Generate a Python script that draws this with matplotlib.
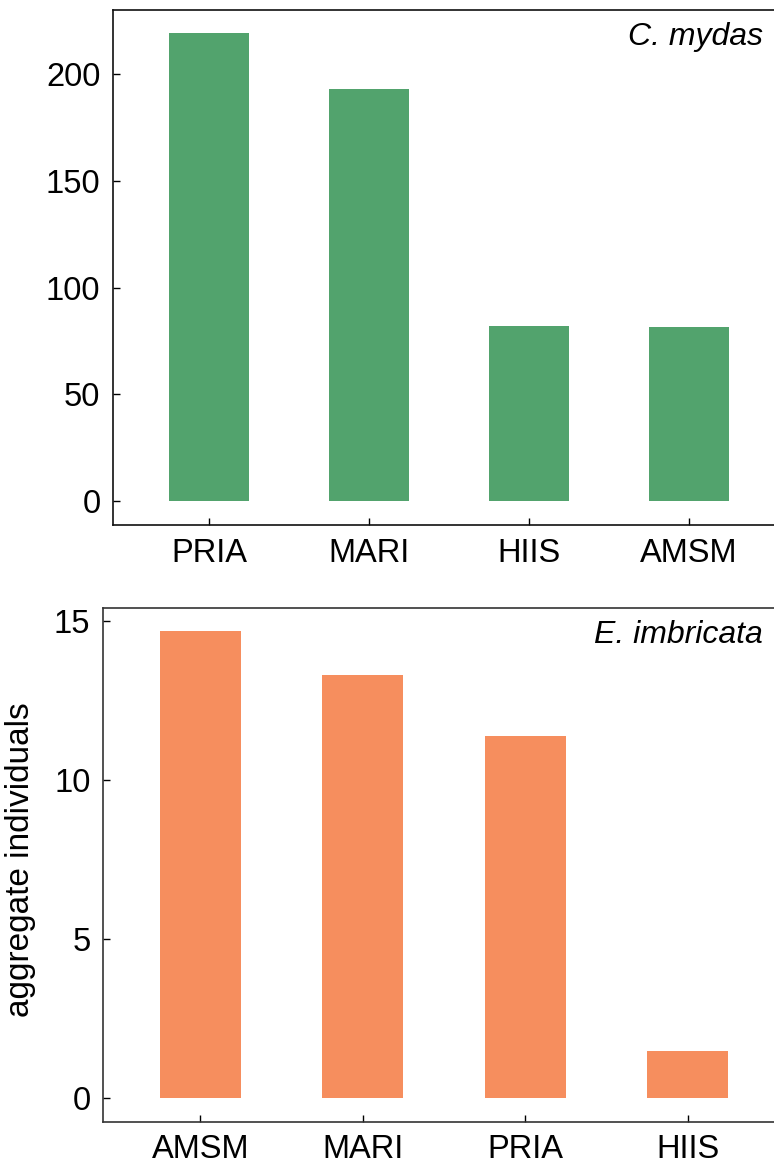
import matplotlib
matplotlib.use("Agg")
import matplotlib.pyplot as plt

plt.rcParams['font.family'] = ['Liberation Sans', 'DejaVu Sans']

# Aggregate individuals per region, per species
mydas_regions = ["PRIA", "MARI", "HIIS", "AMSM"]
mydas_values = [219, 193, 82, 81.5]

imbricata_regions = ["AMSM", "MARI", "PRIA", "HIIS"]
imbricata_values = [14.68, 13.3, 11.38, 1.49]

green = "#52A36D"
orange = "#F68E5E"

W, H = 774, 1167
fig = plt.figure(figsize=(W / 100, H / 100), dpi=100)

ax1 = fig.add_axes([113 / W, 1 - 525 / H, 672 / W, 515 / H])
ax2 = fig.add_axes([103 / W, 1 - 1121.7 / H, 682 / W, 514 / H])


def style(ax, spine_color):
    for side in ("left", "bottom", "top"):
        ax.spines[side].set_color(spine_color)
        ax.spines[side].set_linewidth(1.2)
    ax.spines["right"].set_visible(False)
    ax.tick_params(axis="both", direction="in", length=5, width=1.0,
                   labelsize=23.5, pad=9, colors="black")
    ax.tick_params(axis="y", right=False)
    ax.tick_params(axis="x", top=False)


ax1.bar(range(len(mydas_regions)), mydas_values, width=0.5, color=green)
ax1.set_xticks(range(len(mydas_regions)))
ax1.set_xticklabels(mydas_regions)
ax1.set_xlim(-0.6, 3.6)
ax1.set_ylim(-11.2, 230)
ax1.set_yticks([0, 50, 100, 150, 200])
style(ax1, "#111111")

ax2.bar(range(len(imbricata_regions)), imbricata_values, width=0.5, color=orange)
ax2.set_xticks(range(len(imbricata_regions)))
ax2.set_xticklabels(imbricata_regions)
ax2.set_xlim(-0.6, 3.6)
ax2.set_ylim(-0.735, 15.41)
ax2.set_yticks([0, 5, 10, 15])
style(ax2, "#333333")
ax2.set_ylabel("aggregate individuals", fontsize=24)
ax2.yaxis.set_label_coords(-0.098, 0.51)

fig.text(763 / W, 1 - 45 / H, "C. mydas", fontsize=23, style="italic",
         ha="right", va="baseline")
fig.text(763 / W, 1 - 643 / H, "E. imbricata", fontsize=23, style="italic",
         ha="right", va="baseline")

fig.savefig("out.png", dpi=100)
